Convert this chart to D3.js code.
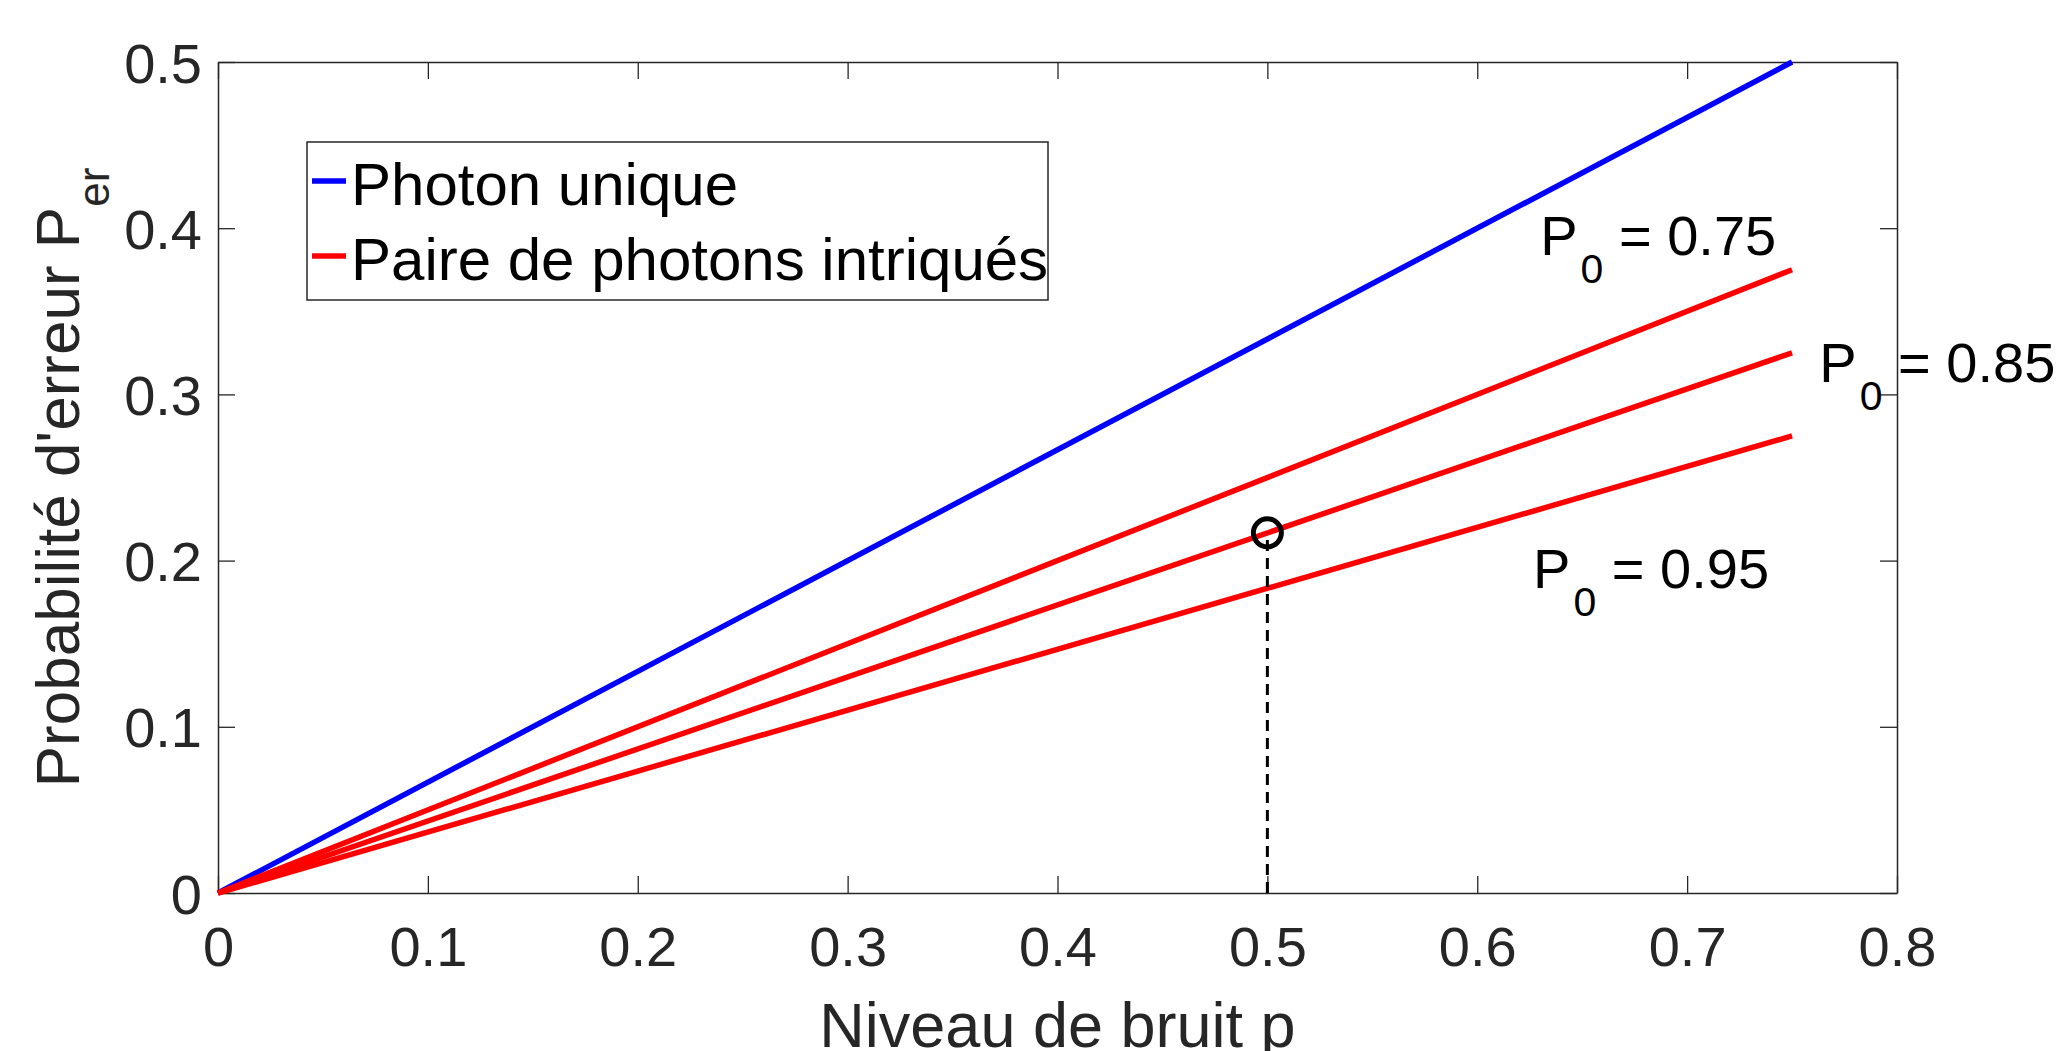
<!DOCTYPE html>
<html>
<head>
<meta charset="utf-8">
<script src="https://cdn.jsdelivr.net/npm/d3@7"></script>
<style>
  body { margin: 0; background: #fff; }
  text { font-family: "Liberation Sans", Arial, Helvetica, sans-serif; }
</style>
</head>
<body>
<div id="chart"></div>
<script>
// data
const noiseLevel = [0, 0.75];
const singlePhoton = [0, 0.5];
const pairLabels = ["0.75", "0.85", "0.95"];
const pairValues = [[0, 0.375], [0, 0.325], [0, 0.275]];
const markerPoint = [0.5, 0.2167];
const xTicks = [0, 0.1, 0.2, 0.3, 0.4, 0.5, 0.6, 0.7, 0.8];
const yTicks = [0, 0.1, 0.2, 0.3, 0.4, 0.5];
// label anchors (data units) for the P0 annotations
const labelX = [0.63, 0.763, 0.6266];
const labelY = [0.384, 0.3075, 0.1835];

const width = 2065, height = 1051;
const margin = {left: 218, right: 168, top: 62, bottom: 158};

let svg = d3.select("#chart")
    .append("svg")
        .attr("width", width)
        .attr("height", height);

let x = d3.scaleLinear().domain([0, 0.8]).range([margin.left, width - margin.right]);
let y = d3.scaleLinear().domain([0, 0.5]).range([height - margin.bottom, margin.top]);

const axisColor = "#262626";
const tickLen = 17;

//axes with inward ticks, bottom and left labelled
let fmt = d => d === 0 ? "0" : d3.format(".1f")(d);

let xAxis = svg.append("g")
    .attr("transform", `translate(0, ${y(0)})`)
    .call(d3.axisBottom(x).tickValues(xTicks).tickFormat(fmt).tickSizeInner(-tickLen).tickSizeOuter(0).tickPadding(33));
let xTop = svg.append("g")
    .attr("transform", `translate(0, ${y(0.5)})`)
    .call(d3.axisTop(x).tickValues(xTicks).tickFormat("").tickSizeInner(-tickLen).tickSizeOuter(0));
let yAxis = svg.append("g")
    .attr("transform", `translate(${x(0)}, 0)`)
    .call(d3.axisLeft(y).tickValues(yTicks).tickFormat(fmt).tickSizeInner(-tickLen).tickSizeOuter(0).tickPadding(16));
let yRight = svg.append("g")
    .attr("transform", `translate(${x(0.8)}, 0)`)
    .call(d3.axisRight(y).tickValues(yTicks).tickFormat("").tickSizeInner(-tickLen).tickSizeOuter(0));

[xAxis, xTop, yAxis, yRight].forEach(g => {
    g.select(".domain").attr("stroke", axisColor).attr("stroke-width", 1.5);
    g.selectAll(".tick line").attr("stroke", axisColor).attr("stroke-width", 1.3);
    g.selectAll(".tick text")
        .attr("fill", axisColor)
        .style("font-family", "'Liberation Sans', Arial, sans-serif")
        .style("font-size", "56px");
});
xAxis.selectAll(".tick text").attr("dy", "0.72em");
yAxis.selectAll(".tick text").attr("dy", "0.36em");

//lines
let line = d3.line()
    .x((d, i) => x(noiseLevel[i]))
    .y(d => y(d));

svg.append("path")
    .attr("d", line(singlePhoton))
    .attr("fill", "none")
    .attr("stroke", "#0000ff")
    .attr("stroke-width", 5.5);

svg.selectAll("path.pair")
    .data(pairValues)
    .enter()
    .append("path")
    .attr("class", "pair")
    .attr("d", d => line(d))
    .attr("fill", "none")
    .attr("stroke", "#ff0000")
    .attr("stroke-width", 5.5);

//dashed drop line + marker
svg.append("line")
    .attr("x1", x(markerPoint[0])).attr("x2", x(markerPoint[0]))
    .attr("y1", y(0)).attr("y2", y(markerPoint[1]))
    .attr("stroke", "#000")
    .attr("stroke-width", 3)
    .attr("stroke-dasharray", "11,7");

svg.append("circle")
    .attr("cx", x(markerPoint[0]))
    .attr("cy", y(markerPoint[1]))
    .attr("r", 14)
    .attr("fill", "none")
    .attr("stroke", "#000")
    .attr("stroke-width", 5);

//P0 annotations
pairLabels.forEach(function(lab, i) {
    let t = svg.append("text")
        .attr("x", x(labelX[i]))
        .attr("y", y(labelY[i]))
        .attr("fill", "#000")
        .style("font-size", "56px");
    t.append("tspan").text("P");
    t.append("tspan").text("0").attr("dx", 3).attr("dy", 28).style("font-size", "41px");
    t.append("tspan").text(" = " + lab).attr("dy", -28);
});

//legend
let legend = svg.append("g");
legend.append("rect")
    .attr("x", 307).attr("y", 142)
    .attr("width", 741).attr("height", 158)
    .attr("fill", "#fff")
    .attr("stroke", axisColor)
    .attr("stroke-width", 1.5);

let legendItems = [
    {name: "Photon unique", color: "#0000ff"},
    {name: "Paire de photons intriqués", color: "#ff0000"}
];
legendItems.forEach(function(d, i) {
    let cy = 181 + i * 75;
    legend.append("line")
        .attr("x1", 312).attr("x2", 346)
        .attr("y1", cy).attr("y2", cy)
        .attr("stroke", d.color)
        .attr("stroke-width", 5.5);
    legend.append("text")
        .attr("x", 351)
        .attr("y", cy + 24)
        .attr("fill", "#000")
        .style("font-size", "60px")
        .text(d.name);
});

//axis titles
svg.append("text")
    .attr("x", (x(0) + x(0.8)) / 2)
    .attr("y", 1047)
    .attr("text-anchor", "middle")
    .attr("fill", axisColor)
    .style("font-size", "63px")
    .text("Niveau de bruit p");

let yTitle = svg.append("text")
    .attr("transform", `translate(79, ${(y(0) + y(0.5)) / 2}) rotate(-90)`)
    .attr("text-anchor", "middle")
    .attr("fill", axisColor)
    .style("font-size", "62px");
yTitle.append("tspan").text("Probabilité d'erreur P");
yTitle.append("tspan").text("er").attr("dy", 30).style("font-size", "44px");
</script>
</body>
</html>
